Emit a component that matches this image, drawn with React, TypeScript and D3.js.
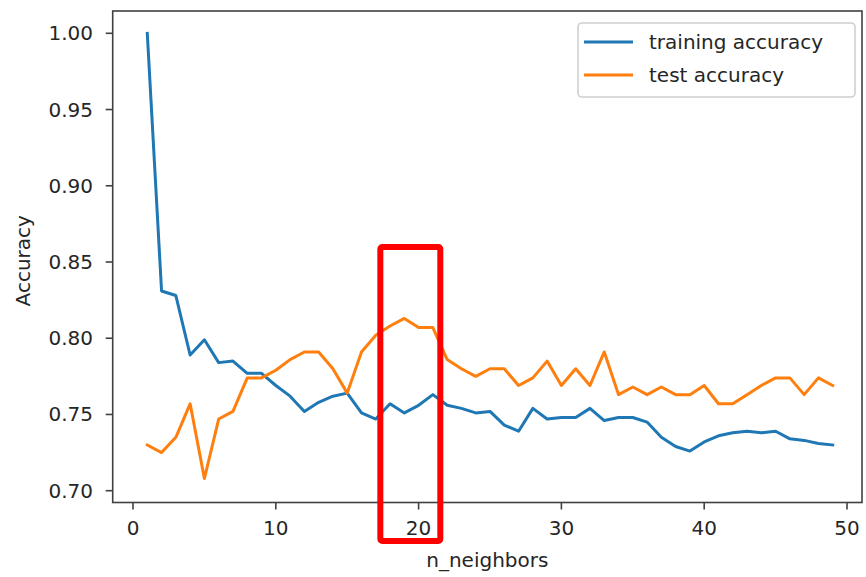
import React from "react";
import * as d3 from "d3";

const neighbors: number[] = d3.range(1, 50);

const trainingAccuracy: number[] = [
  1.0, 0.831, 0.828, 0.789, 0.799, 0.784, 0.785, 0.777, 0.777, 0.769,
  0.762, 0.752, 0.758, 0.762, 0.764, 0.751, 0.747, 0.757, 0.751, 0.756,
  0.763, 0.756, 0.754, 0.751, 0.752, 0.743, 0.739, 0.754, 0.747, 0.748,
  0.748, 0.754, 0.746, 0.748, 0.748, 0.745, 0.735, 0.729, 0.726, 0.732,
  0.736, 0.738, 0.739, 0.738, 0.739, 0.734, 0.733, 0.731, 0.730,
];

const testAccuracy: number[] = [
  0.730, 0.725, 0.735, 0.757, 0.708, 0.747, 0.752, 0.774, 0.774, 0.779,
  0.786, 0.791, 0.791, 0.780, 0.764, 0.791, 0.802, 0.808, 0.813, 0.807,
  0.807, 0.786, 0.780, 0.775, 0.780, 0.780, 0.769, 0.774, 0.785, 0.769,
  0.780, 0.769, 0.791, 0.763, 0.768, 0.763, 0.768, 0.763, 0.763, 0.769,
  0.757, 0.757, 0.763, 0.769, 0.774, 0.774, 0.763, 0.774, 0.769,
];

const xTicks: number[] = [0, 10, 20, 30, 40, 50];
const yTicks: number[] = [0.7, 0.75, 0.8, 0.85, 0.9, 0.95, 1.0];
const seriesNames: string[] = ["training accuracy", "test accuracy"];
const seriesColors: string[] = ["#1f77b4", "#ff7f0e"];
const highlightRange: number[] = [17.32, 21.52];

export default function App() {
  const W = 866;
  const H = 577;
  const left = 112.7;
  const right = 862;
  const top = 11;
  const bottom = 502.5;

  const x = d3.scaleLinear().domain([0, 50]).range([133, 847]);
  const y = d3.scaleLinear().domain([0.7, 1.0]).range([490.7, 33.3]);

  const line = d3
    .line<[number, number]>()
    .x((d) => x(d[0]))
    .y((d) => y(d[1]));

  const series = [trainingAccuracy, testAccuracy].map((vals) =>
    neighbors.map((k, i) => [k, vals[i]] as [number, number])
  );

  const font = "'DejaVu Sans', sans-serif";
  const textColor = "#262626";
  const axisColor = "#404040";

  const rx0 = x(highlightRange[0]);
  const rx1 = x(highlightRange[1]);

  return (
    <svg
      width={W}
      height={H}
      style={{ position: "absolute", left: 0, top: 0, background: "#fff" }}
      fontFamily={font}
    >
      <rect x={0} y={0} width={W} height={H} fill="#fff" />
      <defs>
        <clipPath id="plotclip">
          <rect x={left} y={top} width={right - left} height={bottom - top} />
        </clipPath>
      </defs>

      <g clipPath="url(#plotclip)">
        {series.map((s, i) => (
          <path
            key={i}
            d={line(s) || ""}
            fill="none"
            stroke={seriesColors[i]}
            strokeWidth={3}
            strokeLinejoin="round"
            strokeLinecap="square"
          />
        ))}
      </g>

      <rect
        x={left}
        y={top}
        width={right - left}
        height={bottom - top}
        fill="none"
        stroke={axisColor}
        strokeWidth={1.6}
      />

      {xTicks.map((t) => (
        <g key={"x" + t}>
          <line x1={x(t)} x2={x(t)} y1={bottom} y2={bottom + 7} stroke={axisColor} strokeWidth={1.6} />
          <text x={x(t)} y={535} textAnchor="middle" fontSize={20} fill={textColor}>
            {t}
          </text>
        </g>
      ))}

      {yTicks.map((t) => (
        <g key={"y" + t}>
          <line x1={left - 7} x2={left} y1={y(t)} y2={y(t)} stroke={axisColor} strokeWidth={1.6} />
          <text
            x={93}
            y={y(t)}
            dy="0.35em"
            textAnchor="end"
            fontSize={20}
            fill={textColor}
          >
            {t.toFixed(2)}
          </text>
        </g>
      ))}

      <text x={(left + right) / 2} y={567} textAnchor="middle" fontSize={20} fill={textColor}>
        n_neighbors
      </text>
      <text
        transform={`translate(30, ${(top + bottom) / 2 + 4}) rotate(-90)`}
        textAnchor="middle"
        fontSize={20}
        fill={textColor}
      >
        Accuracy
      </text>

      <rect
        x={578}
        y={23}
        width={277}
        height={74}
        rx={4}
        fill="#fff"
        fillOpacity={0.8}
        stroke="#d0d0d0"
        strokeWidth={1.6}
      />
      {seriesNames.map((name, i) => (
        <g key={name}>
          <line
            x1={584}
            x2={633}
            y1={42 + i * 33}
            y2={42 + i * 33}
            stroke={seriesColors[i]}
            strokeWidth={3}
          />
          <text x={649} y={42 + i * 33} dy="0.35em" fontSize={20} fill={textColor}>
            {name}
          </text>
        </g>
      ))}

      <rect
        x={rx0}
        y={247}
        width={rx1 - rx0}
        height={294}
        rx={2}
        fill="none"
        stroke="#ff0000"
        strokeWidth={6}
      />
    </svg>
  );
}
